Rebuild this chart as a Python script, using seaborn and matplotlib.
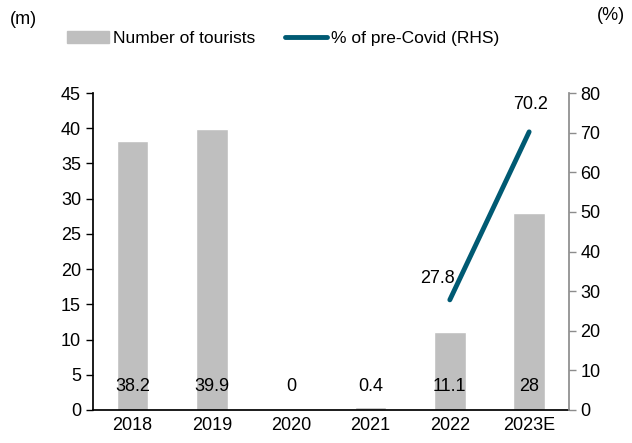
import matplotlib
matplotlib.use('Agg')
import matplotlib.pyplot as plt
import seaborn as sns
import pandas as pd
from matplotlib.patches import Patch
from matplotlib.lines import Line2D

years = ['2018', '2019', '2020', '2021', '2022', '2023E']
tourists = [38.2, 39.9, 0, 0.4, 11.1, 28]
pct_years = ['2022', '2023E']
pct_pre_covid = [27.8, 70.2]

bar_color = '#BFBFBF'
line_color = '#005A73'
fs = 13

sns.set_theme(style='white')
plt.rcParams['font.family'] = ['Liberation Sans', 'DejaVu Sans']
plt.rcParams['font.size'] = fs
plt.rcParams['text.color'] = 'black'
plt.rcParams['xtick.labelcolor'] = 'black'
plt.rcParams['ytick.labelcolor'] = 'black'

fig = plt.figure(figsize=(6.32, 4.43), dpi=100)
ax = fig.add_axes([0.147, 0.0745, 0.753, 0.7155])

df = pd.DataFrame({'year': years, 'tourists': tourists})
sns.barplot(data=df, x='year', y='tourists', color=bar_color, width=0.4,
            saturation=1, ax=ax)
ax.set_xlim(-0.5, len(years) - 0.5)
ax.set_ylim(0, 45)
ax.set_yticks(range(0, 46, 5))
ax.set_xlabel('')
ax.set_ylabel('')

# tick marks at category boundaries
ax.set_xticks(range(len(years)))
ax.set_xticklabels(years, fontsize=fs)
ax.set_xticks([i - 0.5 for i in range(len(years) + 1)], minor=True)
ax.tick_params(axis='x', which='major', length=0, pad=5, labelcolor='black')
ax.tick_params(axis='x', which='minor', length=5, width=1, color='black', direction='out')
ax.tick_params(axis='y', length=5, width=1, color='black', direction='out', labelsize=fs,
               left=True, labelcolor='black')

for s in ['top', 'right']:
    ax.spines[s].set_visible(False)
ax.spines['left'].set_color('black')
ax.spines['bottom'].set_color('black')

# value labels near the bottom of bars
for i, v in enumerate(tourists):
    ax.text(i, 3.3, f'{v:g}', ha='center', va='center', fontsize=fs, color='black')

ax2 = ax.twinx()
pos = [years.index(y) for y in pct_years]
sns.lineplot(x=pos, y=pct_pre_covid, color=line_color, linewidth=3.5,
             solid_capstyle='round', ax=ax2)
ax2.set_ylim(0, 80)
ax2.set_yticks(range(0, 81, 10))
ax2.tick_params(axis='y', length=5, width=1, color='#8C8C8C', direction='out', labelsize=fs,
                right=True, labelcolor='black')
for s in ['top', 'left', 'bottom']:
    ax2.spines[s].set_visible(False)
ax2.spines['right'].set_color('#8C8C8C')
ax2.set_xlim(-0.5, len(years) - 0.5)

ax2.text(pos[0] - 0.16, pct_pre_covid[0] + 5.3, f'{pct_pre_covid[0]:g}', ha='center', va='center', fontsize=fs)
ax2.text(pos[1] + 0.02, pct_pre_covid[1] + 6.8, f'{pct_pre_covid[1]:g}', ha='center', va='center', fontsize=fs)

fig.text(0.016, 0.955, '(m)', fontsize=fs, va='center')
fig.text(0.945, 0.966, '(%)', fontsize=fs, va='center')

handles = [Patch(color=bar_color, label='Number of tourists'),
           Line2D([0], [0], color=line_color, lw=3.5, label='% of pre-Covid (RHS)')]
fig.legend(handles=handles, loc='center', bbox_to_anchor=(0.448, 0.914), ncol=2,
           frameon=False, fontsize=12.5, handlelength=2.4, handleheight=0.7,
           handletextpad=0.25, columnspacing=1.7, labelcolor='black')

fig.savefig('out.png', dpi=100)
